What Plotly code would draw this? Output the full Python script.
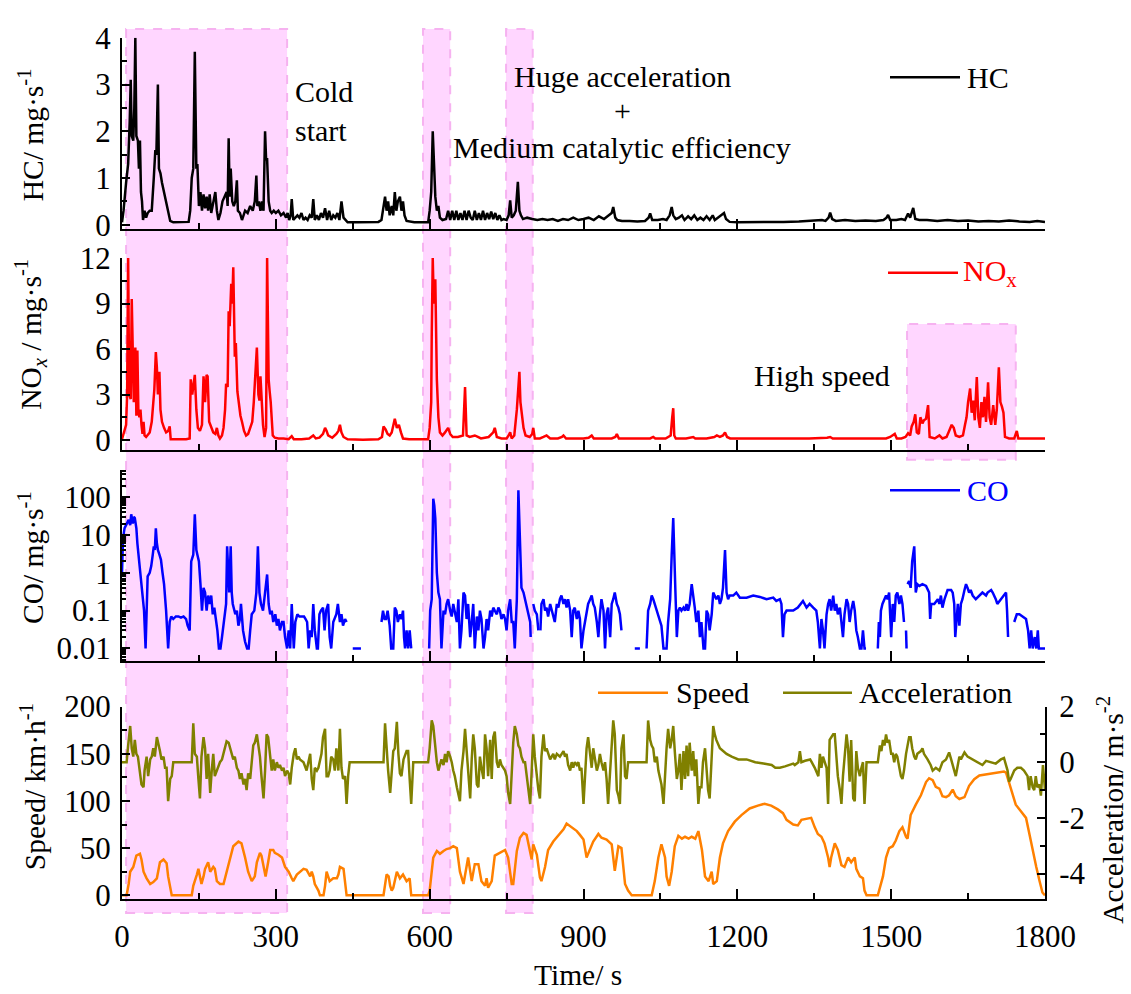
import plotly.graph_objects as go

# ---------------- data (time in s, value) ----------------
hc = [(0,0.05),(3,0.3),(8,0.9),(12,1.3),(15,2.2),(17,3.1),(19,1.9),(22,1.8),(24,2.5),(26,4.0),(28,1.9),(31,1.8),(33,1.2),(35,1.8),(37,0.7),(39,0.5),(41,0.1),(44,0.3),(47,0.15),(50,0.25),(54,0.3),(58,0.3),(62,1.0),(65,1.6),(67,1.5),(70,3.0),(72,1.2),(75,1.1),(78,0.9),(82,0.7),(86,0.5),(90,0.3),(94,0.08),(100,0.05),(115,0.05),(130,0.06),(133,0.3),(136,1.0),(139,1.2),(142,3.7),(145,1.2),(147,1.3),(150,0.4),(153,0.7),(156,0.3),(159,0.65),(162,0.35),(165,0.6),(168,0.3),(171,0.65),(174,0.25),(178,0.5),(182,0.7),(185,0.3),(188,0.1),(192,0.25),(196,0.5),(200,0.6),(204,0.7),(206,0.4),(208,1.85),(210,0.6),(212,1.2),(215,0.5),(218,0.4),(221,0.5),(224,0.95),(226,0.3),(230,0.25),(234,0.1),(240,0.3),(245,0.25),(250,0.4),(255,0.3),(259,0.5),(262,1.05),(264,0.4),(267,0.5),(270,0.3),(273,0.5),(276,0.3),(279,2.0),(281,1.4),(283,1.4),(286,0.5),(289,0.3),(292,0.25),(296,0.3),(300,0.25),(305,0.3),(310,0.2),(315,0.25),(320,0.15),(323,0.25),(326,0.1),(329,0.2),(331,0.55),(334,0.1),(338,0.15),(342,0.2),(346,0.15),(350,0.25),(354,0.1),(358,0.15),(362,0.1),(366,0.2),(370,0.15),(373,0.55),(376,0.1),(380,0.2),(384,0.1),(388,0.25),(392,0.15),(396,0.35),(400,0.1),(404,0.3),(408,0.1),(412,0.2),(416,0.15),(420,0.25),(424,0.1),(428,0.5),(432,0.15),(436,0.1),(440,0.05),(460,0.05),(480,0.05),(500,0.06),(506,0.1),(510,0.45),(513,0.6),(516,0.3),(519,0.5),(522,0.2),(526,0.4),(529,0.2),(532,0.7),(535,0.3),(538,0.5),(542,0.6),(545,0.3),(548,0.5),(551,0.2),(555,0.08),(570,0.05),(585,0.05),(597,0.05),(600,0.3),(603,0.7),(606,2.0),(609,0.9),(611,0.6),(614,0.3),(617,0.4),(620,0.15),(625,0.1),(632,0.12),(636,0.3),(640,0.1),(644,0.3),(648,0.1),(652,0.3),(656,0.1),(660,0.25),(664,0.1),(668,0.3),(672,0.1),(676,0.3),(680,0.15),(684,0.1),(688,0.3),(692,0.1),(696,0.25),(700,0.1),(704,0.3),(708,0.1),(712,0.25),(716,0.12),(720,0.28),(724,0.12),(728,0.25),(732,0.1),(736,0.2),(740,0.1),(744,0.12),(750,0.1),(754,0.2),(757,0.52),(760,0.15),(764,0.2),(768,0.3),(772,0.92),(775,0.3),(778,0.2),(782,0.12),(790,0.15),(800,0.12),(810,0.1),(820,0.12),(830,0.1),(840,0.12),(850,0.08),(860,0.12),(870,0.1),(880,0.15),(890,0.1),(900,0.12),(910,0.15),(920,0.1),(930,0.18),(940,0.12),(948,0.2),(955,0.25),(958,0.38),(962,0.15),(966,0.1),(975,0.08),(990,0.08),(1005,0.07),(1020,0.08),(1027,0.15),(1030,0.24),(1034,0.1),(1045,0.1),(1055,0.12),(1062,0.1),(1068,0.2),(1072,0.38),(1075,0.2),(1080,0.12),(1086,0.15),(1092,0.2),(1097,0.1),(1104,0.18),(1110,0.12),(1116,0.2),(1122,0.1),(1128,0.15),(1134,0.1),(1140,0.18),(1146,0.1),(1152,0.2),(1156,0.1),(1162,0.15),(1168,0.2),(1174,0.25),(1178,0.12),(1185,0.06),(1200,0.05),(1230,0.05),(1260,0.06),(1290,0.06),(1320,0.07),(1350,0.08),(1365,0.1),(1372,0.08),(1378,0.15),(1381,0.26),(1385,0.12),(1392,0.08),(1410,0.1),(1430,0.08),(1450,0.09),(1470,0.08),(1485,0.1),(1491,0.15),(1494,0.21),(1498,0.1),(1510,0.1),(1520,0.12),(1527,0.1),(1533,0.24),(1537,0.15),(1543,0.36),(1547,0.12),(1555,0.1),(1570,0.1),(1590,0.08),(1610,0.1),(1630,0.08),(1650,0.09),(1670,0.07),(1690,0.08),(1710,0.07),(1730,0.09),(1750,0.07),(1770,0.06),(1785,0.08),(1800,0.06)]

nox = [(0,0.05),(4,0.5),(8,1.0),(10,3.0),(12,12.0),(14,3.0),(17,2.7),(19,9.3),(21,4.0),(23,2.5),(26,6.1),(28,1.6),(30,5.9),(32,1.8),(34,1.5),(36,2.0),(38,1.0),(40,0.4),(42,1.2),(44,0.3),(47,0.2),(50,0.3),(54,0.5),(58,1.2),(61,2.5),(63,3.3),(66,5.8),(68,4.8),(70,3.0),(73,4.5),(75,2.0),(78,1.2),(82,0.8),(86,0.5),(90,0.6),(93,0.9),(95,0.05),(110,0.05),(125,0.05),(132,0.1),(134,4.0),(137,3.0),(139,3.5),(142,4.3),(145,2.0),(148,0.8),(152,0.6),(156,1.0),(159,4.2),(162,2.5),(165,4.3),(167,4.2),(170,1.2),(174,0.8),(178,0.5),(182,0.4),(185,0.8),(188,0.3),(191,0.1),(195,0.3),(198,0.8),(201,2.0),(203,3.7),(206,3.5),(208,8.5),(210,7.5),(213,10.3),(215,9.0),(217,11.4),(220,5.5),(222,6.4),(225,3.2),(228,2.2),(231,1.6),(234,1.2),(238,0.6),(242,0.3),(246,0.4),(250,0.8),(254,1.2),(257,2.5),(260,4.0),(263,6.1),(266,3.0),(268,2.6),(270,4.2),(272,2.5),(275,1.0),(278,0.2),(281,0.8),(283,12.0),(286,4.0),(288,3.2),(290,2.5),(294,0.3),(298,0.15),(305,0.1),(315,0.1),(325,0.05),(331,0.25),(335,0.05),(350,0.05),(365,0.1),(373,0.3),(378,0.1),(385,0.15),(392,0.4),(396,0.8),(399,0.6),(402,0.3),(410,0.15),(418,0.4),(422,0.6),(425,1.0),(428,0.5),(432,0.2),(440,0.05),(470,0.02),(500,0.05),(507,0.2),(510,0.9),(514,0.7),(518,0.4),(522,0.3),(526,0.5),(532,1.4),(536,0.8),(540,1.0),(544,0.5),(548,0.1),(560,0.05),(580,0.05),(597,0.05),(600,0.8),(603,2.5),(604,6.8),(606,12.0),(608,9.0),(611,10.6),(614,4.0),(617,1.5),(620,0.5),(625,0.3),(630,0.5),(636,0.8),(640,0.4),(645,0.2),(655,0.2),(665,0.3),(669,3.5),(672,0.3),(678,0.2),(688,0.3),(694,0.2),(700,0.1),(715,0.2),(724,0.5),(727,0.8),(731,0.2),(740,0.1),(750,0.1),(754,0.3),(757,0.5),(760,0.1),(765,0.3),(770,2.0),(773,3.5),(775,4.5),(777,2.5),(780,1.5),(783,0.8),(787,0.3),(795,0.2),(800,0.4),(802,0.8),(805,0.1),(815,0.1),(822,0.2),(828,0.3),(835,0.1),(850,0.1),(858,0.2),(861,0.3),(866,0.1),(880,0.1),(900,0.1),(910,0.15),(916,0.3),(920,0.1),(940,0.1),(955,0.1),(962,0.2),(965,0.4),(969,0.1),(990,0.1),(1010,0.08),(1030,0.1),(1036,0.2),(1040,0.1),(1060,0.1),(1070,0.3),(1073,1.5),(1075,2.1),(1077,0.3),(1080,0.1),(1100,0.1),(1110,0.15),(1114,0.2),(1118,0.1),(1140,0.1),(1155,0.2),(1160,0.3),(1166,0.2),(1172,0.3),(1176,0.5),(1180,0.2),(1186,0.1),(1220,0.1),(1260,0.1),(1300,0.1),(1340,0.1),(1375,0.15),(1381,0.2),(1386,0.1),(1420,0.1),(1460,0.1),(1490,0.1),(1498,0.2),(1503,0.3),(1507,0.4),(1511,0.1),(1520,0.1),(1528,0.2),(1533,0.45),(1537,0.3),(1540,0.9),(1544,1.2),(1547,1.7),(1550,0.5),(1554,0.4),(1557,1.5),(1561,1.1),(1564,1.3),(1568,1.4),(1572,2.3),(1575,0.2),(1585,0.1),(1594,0.3),(1600,0.1),(1608,0.2),(1613,0.6),(1618,1.0),(1622,0.8),(1626,0.3),(1633,0.2),(1640,0.3),(1644,1.0),(1647,1.5),(1650,2.5),(1654,3.4),(1657,1.8),(1660,2.6),(1663,1.3),(1667,4.15),(1670,1.5),(1673,0.8),(1676,2.5),(1679,1.5),(1682,2.85),(1685,1.2),(1689,3.8),(1692,1.5),(1695,1.0),(1699,2.3),(1703,1.0),(1706,2.0),(1710,4.8),(1713,2.5),(1716,2.2),(1719,1.8),(1722,0.2),(1730,0.1),(1740,0.1),(1745,0.6),(1748,0.1),(1770,0.1),(1800,0.1)]

co = [(0,1.0),(2,8),(5,15),(9,20),(13,25),(16,18),(18,35),(21,20),(23,30),(25,28),(28,15),(30,6),(33,2.4),(36,1.0),(38,0.5),(41,0.2),(43,0.1),(46,0.01),(48,0.3),(50,0.8),(54,1.0),(57,1.5),(60,3.0),(62,5.0),(64,4.0),(66,15),(68,6),(70,4),(73,3),(76,2.2),(79,1.0),(82,0.5),(86,0.1),(90,0.01),(93,0.05),(96,0.07),(100,0.06),(105,0.07),(110,0.07),(115,0.065),(120,0.07),(125,0.06),(128,0.04),(132,0.03),(135,2.0),(139,3.0),(142,35),(145,4),(147,3),(150,2.0),(153,0.5),(156,0.1),(159,0.4),(162,0.3),(165,0.1),(168,0.25),(171,0.15),(174,0.25),(177,0.08),(180,0.12),(183,0.06),(186,0.03),(189,0.01),(192,0.01),(195,0.02),(198,0.05),(201,0.12),(203,0.15),(205,5.0),(207,0.8),(209,0.3),(212,5.0),(214,0.3),(216,0.15),(218,0.12),(221,0.08),(224,0.1),(227,0.04),(230,0.06),(232,0.15),(236,0.03),(240,0.015),(244,0.01),(247,0.01),(250,0.03),(253,0.08),(258,0.1),(262,0.3),(265,5.0),(268,0.3),(271,0.15),(275,0.1),(279,0.3),(283,0.9),(286,0.15),(289,0.08),(292,0.1),(295,0.05),(299,0.08),(302,0.04),(305,0.06),(308,0.03),(312,0.05),(315,0.05),(318,0.02),(322,0.01),(325,0.03),(328,0.01),(331,0.15),(335,0.01),(338,0.05),(342,0.08),(346,0.07),(350,0.07),(355,0.07),(358,0.06),(361,0.05),(364,0.01),(367,0.03),(370,0.02),(373,0.15),(376,0.03),(380,0.01),(382,0.01),(385,0.08),(388,0.1),(392,0.12),(395,0.03),(398,0.1),(402,0.15),(405,0.02),(408,0.01),(412,0.05),(418,0.08),(421,0.15),(425,0.05),(428,0.08),(431,0.04),(435,0.06),(438,0.05),(440,None),(450,0.01),(466,0.01),(467,None),(506,0.05),(509,0.1),(512,0.06),(515,0.06),(518,0.1),(522,0.04),(525,0.01),(529,0.01),(532,0.12),(535,0.1),(538,0.05),(542,0.08),(545,0.06),(548,0.1),(550,0.02),(552,0.01),(555,0.03),(558,0.01),(561,0.03),(564,0.01),(565,None),(599,0.01),(601,0.1),(604,0.2),(607,90),(609,60),(611,27),(614,1.0),(617,0.3),(620,0.2),(623,0.01),(627,0.1),(630,0.08),(633,0.15),(636,0.2),(640,0.1),(643,0.07),(646,0.15),(649,0.1),(653,0.05),(656,0.2),(659,0.01),(662,0.03),(666,0.3),(669,0.25),(672,0.06),(675,0.15),(679,0.02),(682,0.05),(685,0.15),(688,0.01),(692,0.07),(695,0.03),(698,0.1),(701,0.06),(705,0.01),(708,0.02),(711,0.06),(714,0.03),(718,0.1),(721,0.07),(724,0.12),(727,0.1),(731,0.08),(734,0.12),(737,0.1),(740,0.06),(744,0.08),(747,0.06),(750,0.03),(753,0.1),(757,0.2),(760,0.05),(763,0.05),(766,0.01),(770,0.2),(773,150),(776,3),(779,0.4),(783,0.3),(786,0.2),(789,0.15),(792,0.1),(796,0.05),(797,0.02),(798,None),(802,0.15),(805,0.1),(809,0.08),(812,0.03),(813,None),(816,0.03),(818,0.15),(822,0.2),(825,0.1),(828,0.12),(831,0.07),(835,0.15),(838,0.1),(841,0.08),(844,0.05),(848,0.15),(851,0.12),(854,0.2),(857,0.25),(861,0.15),(864,0.2),(867,0.12),(870,0.2),(874,0.1),(877,0.02),(880,0.1),(883,0.12),(887,0.06),(890,0.1),(893,0.06),(896,0.01),(900,0.03),(903,0.05),(906,0.1),(909,0.15),(913,0.2),(916,0.25),(919,0.15),(922,0.12),(926,0.05),(929,0.02),(932,0.08),(935,0.2),(939,0.1),(942,0.01),(945,0.08),(948,0.12),(952,0.02),(955,0.15),(958,0.2),(961,0.3),(965,0.15),(968,0.12),(971,0.08),(974,0.03),(975,None),(1000,0.01),(1010,0.01),(1011,None),(1023,0.01),(1026,0.1),(1030,0.15),(1033,0.25),(1036,0.2),(1039,0.15),(1043,0.1),(1046,0.08),(1049,0.06),(1052,0.04),(1056,0.01),(1062,0.01),(1065,0.05),(1069,0.2),(1072,3.0),(1075,28),(1079,0.4),(1082,0.02),(1085,0.1),(1088,0.12),(1091,0.1),(1095,0.12),(1098,0.1),(1101,0.15),(1104,0.1),(1107,0.15),(1111,0.5),(1114,0.2),(1117,0.12),(1120,0.05),(1124,0.1),(1127,0.02),(1130,0.05),(1134,0.01),(1137,0.01),(1140,0.1),(1143,0.08),(1146,0.03),(1150,0.08),(1153,0.3),(1156,0.25),(1159,0.2),(1163,0.25),(1166,0.15),(1169,0.2),(1172,0.4),(1176,4.0),(1179,0.3),(1182,0.2),(1185,0.25),(1192,0.25),(1198,0.3),(1205,0.22),(1218,0.22),(1231,0.25),(1244,0.23),(1257,0.2),(1270,0.22),(1276,0.18),(1283,0.2),(1286,0.15),(1289,0.02),(1292,0.08),(1296,0.1),(1302,0.1),(1309,0.1),(1318,0.12),(1328,0.18),(1335,0.12),(1341,0.15),(1348,0.12),(1354,0.1),(1357,0.05),(1361,0.01),(1364,0.06),(1367,0.03),(1370,0.01),(1374,0.08),(1377,0.15),(1380,0.2),(1383,0.1),(1387,0.25),(1390,0.1),(1393,0.15),(1396,0.08),(1400,0.12),(1403,0.05),(1406,0.02),(1409,0.08),(1413,0.2),(1416,0.15),(1419,0.05),(1422,0.1),(1426,0.18),(1429,0.1),(1432,0.03),(1435,0.02),(1439,0.01),(1442,0.01),(1445,0.03),(1448,0.01),(1451,0.01),(1452,None),(1474,0.01),(1476,0.05),(1478,0.02),(1480,0.1),(1483,0.15),(1487,0.2),(1490,0.25),(1493,0.2),(1496,0.3),(1500,0.02),(1503,0.15),(1506,0.05),(1509,0.25),(1512,0.3),(1516,0.15),(1519,0.25),(1522,0.15),(1525,0.05),(1526,None),(1529,0.03),(1530,0.01),(1531,None),(1532,0.5),(1535,0.6),(1538,0.4),(1541,2.0),(1545,5.0),(1547,0.8),(1548,0.3),(1551,0.5),(1555,0.45),(1561,0.5),(1568,0.45),(1574,0.3),(1576,0.06),(1578,0.15),(1584,0.15),(1591,0.2),(1594,0.15),(1597,0.25),(1600,0.12),(1604,0.2),(1610,0.35),(1617,0.35),(1620,0.3),(1623,0.15),(1625,0.02),(1630,0.15),(1633,0.04),(1636,0.15),(1639,0.2),(1643,0.35),(1646,0.5),(1649,0.4),(1652,0.3),(1655,0.35),(1659,0.25),(1665,0.2),(1672,0.25),(1678,0.3),(1685,0.25),(1688,0.3),(1695,0.35),(1698,0.3),(1704,0.2),(1707,0.15),(1714,0.2),(1720,0.25),(1724,0.3),(1726,0.1),(1728,0.02),(1729,None),(1740,0.05),(1742,0.06),(1745,0.08),(1750,0.08),(1757,0.07),(1763,0.06),(1767,0.03),(1770,0.01),(1773,0.03),(1776,0.01),(1780,0.02),(1783,0.01),(1786,0.03),(1788,0.01),(1793,0.01),(1800,0.01)]

speed = [(0,0),(9,0),(13,12),(16,25),(22,30),(25,35),(28,42),(35,44),(38,38),(42,25),(48,18),(55,12),(61,14),(68,18),(71,28),(74,35),(81,38),(87,34),(90,20),(94,8),(97,0),(136,0),(139,10),(146,22),(149,28),(152,20),(155,12),(159,20),(162,28),(168,35),(172,25),(178,30),(181,28),(185,15),(191,12),(198,12),(204,25),(211,38),(217,52),(227,57),(233,55),(240,40),(246,25),(253,15),(259,20),(263,35),(269,45),(272,42),(276,30),(280,20),(285,35),(289,48),(295,48),(298,45),(305,43),(312,40),(318,30),(325,25),(331,18),(334,15),(341,22),(347,25),(354,28),(360,27),(367,20),(370,25),(373,20),(376,12),(383,5),(386,0),(393,0),(396,10),(399,25),(402,20),(405,15),(412,18),(419,18),(422,22),(425,30),(432,28),(435,10),(438,0),(510,0),(513,10),(516,22),(520,20),(523,10),(526,5),(529,8),(536,25),(542,18),(548,22),(555,15),(561,18),(564,0),(597,0),(600,5),(604,25),(607,40),(614,47),(620,44),(627,47),(633,49),(640,50),(646,52),(653,50),(659,25),(666,12),(672,30),(675,40),(682,15),(688,33),(695,33),(701,15),(708,10),(711,18),(714,8),(721,15),(727,42),(737,45),(747,48),(753,40),(760,12),(763,12),(770,47),(776,61),(783,66),(789,64),(796,43),(799,38),(802,54),(809,43),(815,19),(818,15),(825,30),(831,48),(841,57),(851,64),(861,70),(867,76),(874,73),(880,70),(887,68),(893,64),(900,59),(906,40),(919,57),(929,65),(935,61),(945,59),(955,54),(961,26),(968,52),(974,50),(981,12),(987,5),(994,0),(1033,0),(1039,15),(1046,40),(1052,54),(1059,40),(1062,20),(1067,10),(1072,25),(1078,52),(1085,63),(1092,60),(1098,62),(1105,60),(1111,62),(1118,60),(1124,68),(1131,48),(1137,20),(1144,15),(1150,25),(1153,12),(1160,15),(1166,40),(1172,55),(1182,68),(1195,78),(1208,85),(1224,92),(1240,95),(1253,97),(1266,95),(1279,91),(1289,87),(1296,80),(1309,75),(1318,74),(1325,80),(1335,81),(1344,82),(1351,72),(1357,65),(1364,62),(1370,55),(1377,40),(1380,30),(1383,40),(1390,55),(1396,48),(1403,32),(1409,30),(1416,40),(1422,35),(1429,40),(1432,28),(1439,20),(1445,18),(1448,5),(1452,0),(1474,0),(1484,20),(1490,40),(1496,50),(1503,52),(1509,58),(1516,68),(1522,72),(1529,62),(1532,60),(1538,85),(1548,96),(1558,106),(1568,120),(1574,124),(1581,122),(1587,115),(1594,113),(1600,105),(1607,104),(1613,106),(1620,112),(1626,105),(1633,102),(1643,104),(1652,116),(1662,123),(1672,127),(1685,128),(1698,129),(1711,130),(1720,131),(1724,130),(1733,113),(1743,96),(1753,89),(1763,82),(1770,64),(1776,47),(1783,30),(1789,16),(1795,3),(1800,0)]

accel = [(0,0),(9,0),(12,0.6),(16,1.3),(19,0.5),(22,0.2),(25,0.8),(28,0.3),(31,0.2),(35,-0.3),(38,-0.8),(42,-0.9),(44,-0.3),(48,0.2),(51,-0.5),(55,0.1),(58,0.2),(61,0.5),(64,0.2),(68,0.9),(71,0.7),(74,0.4),(77,0.1),(81,0.2),(84,-0.2),(87,-0.2),(90,-1.4),(94,-0.6),(97,-0.5),(100,0),(136,0),(139,1.4),(142,0.3),(146,0.2),(149,-0.6),(152,-1.3),(155,0.2),(159,0.9),(162,0.5),(165,-0.6),(168,0.3),(172,-1.1),(175,-0.3),(178,0.3),(181,-0.5),(185,-0.3),(188,-0.2),(191,0),(195,0.1),(198,0.3),(201,0.5),(204,0.75),(208,0.7),(211,0.5),(214,0.4),(217,0.1),(220,0.2),(224,-0.2),(227,-0.3),(230,-0.6),(233,-0.4),(237,-0.8),(240,-0.6),(243,-1.0),(246,-0.4),(250,-0.6),(253,0),(256,0.6),(259,0.7),(263,1.0),(266,0.6),(269,0.2),(272,-0.5),(276,-1.3),(279,-0.3),(282,1.0),(285,0.9),(289,0.2),(292,-0.3),(295,0.1),(298,-0.3),(302,0),(305,-0.2),(308,-0.1),(312,-0.3),(315,-0.2),(318,-0.5),(322,-0.3),(325,-0.4),(328,-0.8),(331,-0.2),(335,0.3),(338,0.5),(341,0.1),(344,0.2),(347,0.1),(354,0),(360,-0.3),(364,0),(367,0.3),(370,-0.6),(373,-1.0),(376,-0.2),(380,-0.3),(383,-0.2),(386,0),(389,0.3),(392,0.9),(396,1.2),(399,-0.5),(402,-0.5),(405,-0.3),(408,0.2),(412,0.1),(415,-0.3),(418,0.5),(422,-0.3),(425,1.2),(428,-0.2),(431,-0.6),(435,-0.5),(438,-1.5),(441,-0.5),(444,0),(510,0),(513,1.4),(516,0.5),(519,-0.3),(523,-1.1),(526,-0.4),(529,0.4),(532,0.5),(536,1.45),(539,0.3),(542,-0.4),(545,-0.5),(549,0.1),(555,0.4),(558,0.4),(561,-0.6),(564,-1.5),(568,0),(597,0),(600,0.5),(604,1.5),(607,1.3),(610,0.6),(614,0),(617,-0.3),(620,-0.1),(623,0.1),(627,-0.1),(630,0.3),(633,0),(636,0.4),(640,0.2),(643,0),(646,-0.3),(649,-0.5),(653,-0.9),(656,-1.2),(659,-1.4),(662,-0.3),(666,0.4),(669,1.2),(672,0.5),(675,-0.5),(679,-1.3),(682,0.1),(685,1.0),(688,0.5),(692,-0.8),(695,-0.9),(698,0.2),(701,-0.2),(705,-0.6),(708,1.0),(711,0.5),(714,-0.5),(718,0.8),(721,-0.6),(724,0.9),(727,1.1),(731,0),(734,-0.2),(737,0.1),(740,-0.1),(744,-0.2),(747,-0.3),(750,-0.5),(753,-1.1),(757,-1.5),(760,-0.3),(763,0.7),(766,1.3),(770,1.0),(773,0.6),(776,0.5),(779,0.2),(783,0),(786,0),(789,-0.5),(792,-1.0),(796,-1.5),(799,-0.3),(802,1.0),(805,0.2),(809,-0.6),(812,-1.0),(815,-1.3),(818,0.2),(822,1.0),(825,0.4),(828,0.5),(831,0.3),(835,0.1),(841,0.3),(844,0.1),(848,0.3),(854,0.2),(861,0.4),(864,0.2),(867,0.3),(870,-0.1),(874,-0.3),(877,0),(880,-0.2),(883,0),(887,-0.1),(890,0),(893,-0.3),(896,-0.2),(900,-1.5),(903,-0.3),(906,0.5),(909,0.9),(913,0.2),(916,-0.2),(919,0.5),(922,0.2),(926,-0.3),(929,-0.1),(932,0.3),(935,0),(939,-0.3),(942,0),(945,-0.6),(948,-1.5),(952,-0.2),(955,0.5),(958,1.5),(961,1.0),(965,-1.0),(968,-1.2),(971,-1.5),(974,0.5),(978,1.0),(981,-0.5),(984,-0.6),(987,0),(1023,0),(1026,1.5),(1030,0.8),(1033,0.6),(1036,0.5),(1039,0),(1043,0.2),(1046,-0.3),(1049,-0.5),(1052,-0.8),(1056,-1.5),(1059,-0.2),(1062,0.5),(1065,1.2),(1069,0.5),(1072,0.8),(1075,1.3),(1078,0.4),(1082,-0.6),(1085,-0.3),(1088,0.3),(1091,-1.0),(1095,0.4),(1098,-0.6),(1101,0.6),(1104,-0.5),(1107,0.7),(1111,-0.3),(1114,0.4),(1117,-0.5),(1120,0.1),(1124,-1.5),(1127,-0.9),(1130,-0.9),(1133,0),(1137,0.5),(1140,-0.4),(1143,-1.0),(1146,-1.3),(1150,0.2),(1153,1.3),(1156,1.0),(1159,0.8),(1166,0.5),(1172,0.4),(1179,0.3),(1189,0.2),(1202,0.1),(1218,0.1),(1235,0),(1251,-0.05),(1267,-0.1),(1274,-0.2),(1283,-0.2),(1293,-0.15),(1303,-0.1),(1309,-0.05),(1312,-0.1),(1319,0),(1322,0.4),(1325,0),(1332,0.05),(1342,0.1),(1345,0),(1351,-0.2),(1358,-0.5),(1361,0.3),(1364,-0.2),(1367,0.2),(1374,-0.2),(1377,-1.5),(1380,0.8),(1383,0.9),(1387,1.0),(1390,1.0),(1393,0.2),(1396,-0.5),(1400,-1.0),(1403,-1.5),(1406,-0.5),(1409,0.2),(1413,1.0),(1416,0.5),(1419,-0.7),(1422,0.8),(1426,-1.3),(1429,-1.4),(1432,0.4),(1435,-0.2),(1439,-0.5),(1442,-0.2),(1445,0),(1448,-1.5),(1452,0),(1474,0),(1478,0.6),(1481,0.4),(1484,0.8),(1487,0.6),(1490,1.0),(1493,0.7),(1496,0.8),(1500,0.3),(1503,0.3),(1506,0),(1509,0.3),(1512,0.2),(1516,-0.3),(1519,-0.5),(1522,-0.6),(1525,-0.3),(1529,0.3),(1532,0.6),(1535,0.9),(1538,0.9),(1541,0.5),(1545,0.2),(1548,0.1),(1551,0.3),(1558,0.4),(1561,0.5),(1564,0.3),(1571,0.1),(1577,-0.1),(1581,-0.3),(1587,-0.2),(1594,-0.3),(1600,0),(1607,0.1),(1613,0.35),(1617,0.1),(1620,-0.1),(1623,-0.3),(1626,-0.5),(1630,-0.1),(1633,0.2),(1636,0.1),(1643,0.35),(1649,0.2),(1659,0.1),(1669,0),(1678,-0.1),(1685,0.05),(1695,0),(1704,-0.05),(1714,0.1),(1720,0.15),(1727,-0.3),(1730,-0.7),(1733,-0.6),(1740,-0.3),(1746,-0.2),(1753,-0.2),(1759,-0.3),(1766,-0.5),(1769,-1.0),(1772,-0.5),(1776,-0.9),(1779,-1.0),(1782,-0.5),(1785,-0.9),(1789,-0.8),(1792,-1.2),(1796,-0.1),(1800,-1.0)]

# highlighted time windows (s)
bands_full = [(8, 322), (587, 640), (749, 801)]
band_high_speed = (1531, 1743)

x_ticks = [0, 300, 600, 900, 1200, 1500, 1800]

# ---------------- figure ----------------
FONT = "Liberation Serif"
FS_TICK = 31
FS_TXT = 30
FS_TITLE = 29.5
W, H = 1131, 994
L, R, T, B = 122, 86, 14, 81
PW, PH = W - L - R, H - T - B


def px(xp):
    return (xp - L) / PW


def py(yp):
    return (H - B - yp) / PH


def unzip(pairs):
    return [p[0] for p in pairs], [p[1] for p in pairs]


fig = go.Figure()

t, v = unzip(hc)
fig.add_trace(go.Scatter(x=t, y=v, mode="lines", line=dict(color="black", width=2.5),
                         xaxis="x", yaxis="y", showlegend=False))
t, v = unzip(nox)
fig.add_trace(go.Scatter(x=t, y=v, mode="lines", line=dict(color="#FF0000", width=2.5),
                         xaxis="x2", yaxis="y2", showlegend=False))
t, v = unzip(co)
fig.add_trace(go.Scatter(x=t, y=v, mode="lines", line=dict(color="#0000FF", width=2.5),
                         xaxis="x3", yaxis="y3", showlegend=False, connectgaps=False))
t, v = unzip(accel)
fig.add_trace(go.Scatter(x=t, y=v, mode="lines", line=dict(color="#808000", width=2.5),
                         xaxis="x4", yaxis="y5", showlegend=False))
t, v = unzip(speed)
fig.add_trace(go.Scatter(x=t, y=v, mode="lines", line=dict(color="#FF8000", width=2.5),
                         xaxis="x4", yaxis="y4", showlegend=False))

tickfont = dict(family=FONT, size=FS_TICK, color="black")

def xax(anchor, labels):
    return dict(domain=[0, 1], anchor=anchor, range=[0, 1800], showline=True,
                linecolor="black", linewidth=2, ticks="inside", ticklen=10, tickwidth=2,
                tickcolor="black", tickmode="array", tickvals=x_ticks,
                showticklabels=labels, tickfont=tickfont, showgrid=False, zeroline=False,
                minor=dict(ticks="inside", dtick=150, tick0=0, ticklen=6, tickwidth=2, tickcolor="black"),
                ticklabelstandoff=9)

def yax(domain, rng, dtick, minor, **kw):
    d = dict(domain=domain, range=rng, showline=True, linecolor="black", linewidth=2,
             ticks="inside", ticklen=8, tickwidth=2, tickcolor="black", dtick=dtick, tick0=0,
             tickfont=tickfont, showgrid=False, zeroline=False, ticklabelstandoff=3,
             minor=dict(ticks="inside", dtick=minor, ticklen=5, tickwidth=2, tickcolor="black"))
    d.update(kw)
    return d

dom1 = [py(217), py(23)]
dom2 = [py(442), py(247)]
dom3 = [py(657), py(462)]
dom4 = [py(899), py(703)]

fig.update_layout(
    width=W, height=H,
    margin=dict(l=L, r=R, t=T, b=B, pad=0),
    paper_bgcolor="white", plot_bgcolor="rgba(0,0,0,0)",
    font=dict(family=FONT, size=FS_TXT, color="black"),
    showlegend=False,
    xaxis=xax("y", False),
    xaxis2=xax("y2", False),
    xaxis3=xax("y3", False),
    xaxis4=xax("y4", True),
    yaxis=yax(dom1, [-0.084, 4], 1, 0.5, anchor="x"),
    yaxis2=yax(dom2, [-0.65, 12], 3, 1.5, anchor="x2"),
    yaxis3=dict(domain=dom3, type="log", range=[-2.338, 2.727], anchor="x3", showline=True,
                linecolor="black", linewidth=2, ticks="inside", ticklen=8, tickwidth=2,
                tickcolor="black", tickmode="array", tickvals=[0.01, 0.1, 1, 10, 100],
                ticktext=["0.01", "0.1", "1", "10", "100"], tickfont=tickfont,
                showgrid=False, zeroline=False, ticklabelstandoff=3,
                minor=dict(ticks="inside", dtick="D1", ticklen=4, tickwidth=1.5, tickcolor="black")),
    yaxis4=yax(dom4, [-4.17, 200], 50, 25, anchor="x4"),
    yaxis5=dict(overlaying="y4", side="right", anchor="x4", range=[-4.92, 2], showline=True,
                linecolor="black", linewidth=2, ticks="inside", ticklen=8, tickwidth=2,
                tickcolor="black", tickmode="array", tickvals=[2, 0, -2, -4],
                ticktext=["2", "0", "-2", "-4"], tickfont=tickfont, showgrid=False,
                zeroline=False, ticklabelstandoff=6,
                minor=dict(ticks="inside", dtick=1, tick0=0, ticklen=5, tickwidth=2, tickcolor="black")),
)

# ---------- shaded windows ----------
PINK_FILL = "rgb(255,214,255)"
PINK_LINE = "rgb(246,178,240)"
shapes = []
for x0, x1 in bands_full:
    shapes.append(dict(type="rect", xref="x4", yref="paper", x0=x0, x1=x1, y0=0, y1=1,
                       fillcolor=PINK_FILL, line=dict(color=PINK_LINE, width=2, dash="dash"),
                       layer="below"))
shapes.append(dict(type="rect", xref="x2", yref="paper", x0=band_high_speed[0], x1=band_high_speed[1],
                   y0=py(452), y1=py(314), fillcolor=PINK_FILL,
                   line=dict(color=PINK_LINE, width=2, dash="dash"), layer="below"))

# ---------- legends (line samples) ----------
leg = [
    (890, 960, 63, "black"),
    (888, 958, 262, "#FF0000"),
    (890, 960, 483, "#0000FF"),
    (598, 668, 689, "#FF8000"),
    (783, 852, 689, "#808000"),
]
for x0, x1, yy, c in leg:
    shapes.append(dict(type="line", xref="paper", yref="paper", x0=px(x0), x1=px(x1),
                       y0=py(yy), y1=py(yy), line=dict(color=c, width=2.5), layer="above"))
fig.update_layout(shapes=shapes)

ann = []
def text(x, y, s, xanchor="left", color="black", angle=0, size=FS_TXT):
    ann.append(dict(xref="paper", yref="paper", x=x, y=y, text=s, showarrow=False,
                    xanchor=xanchor, yanchor="middle", textangle=angle,
                    font=dict(family=FONT, size=size, color=color)))

text(px(965), py(63), "HC")
text(px(961), py(262), "NO<sub>x</sub>", color="#FF0000")
text(px(965), py(483), "CO", color="#0000FF")
text(px(674), py(689), "Speed")
text(px(857), py(689), "Acceleration")

text(px(293), py(78), "Cold")
text(px(293), py(117), "start")
text(px(622), py(62), "Huge acceleration", xanchor="center")
text(px(622), py(97), "+", xanchor="center")
text(px(622), py(135), "Medium catalytic efficiency", xanchor="center")
text(px(892), py(366), "High speed", xanchor="right")

text(px(31), py(122), "HC/ mg·s<sup>-1</sup>", xanchor="center", angle=-90, size=FS_TITLE)
text(px(31), py(325), "NO<sub><i>x</i></sub> / mg·s<sup>-1</sup>", xanchor="center", angle=-90, size=FS_TITLE)
text(px(31), py(552), "CO/ mg·s<sup>-1</sup>", xanchor="center", angle=-90, size=FS_TITLE)
text(px(33), py(785), "Speed/ km·h<sup>-1</sup>", xanchor="center", angle=-90, size=FS_TITLE)
text(px(1110), py(808), "Acceleration/ m·s<sup>-2</sup>", xanchor="center", angle=-90, size=FS_TITLE)
text(px(578), py(976), "Time/ s", xanchor="center", size=FS_TITLE)

fig.update_layout(annotations=ann)

fig.write_html("out.html")
